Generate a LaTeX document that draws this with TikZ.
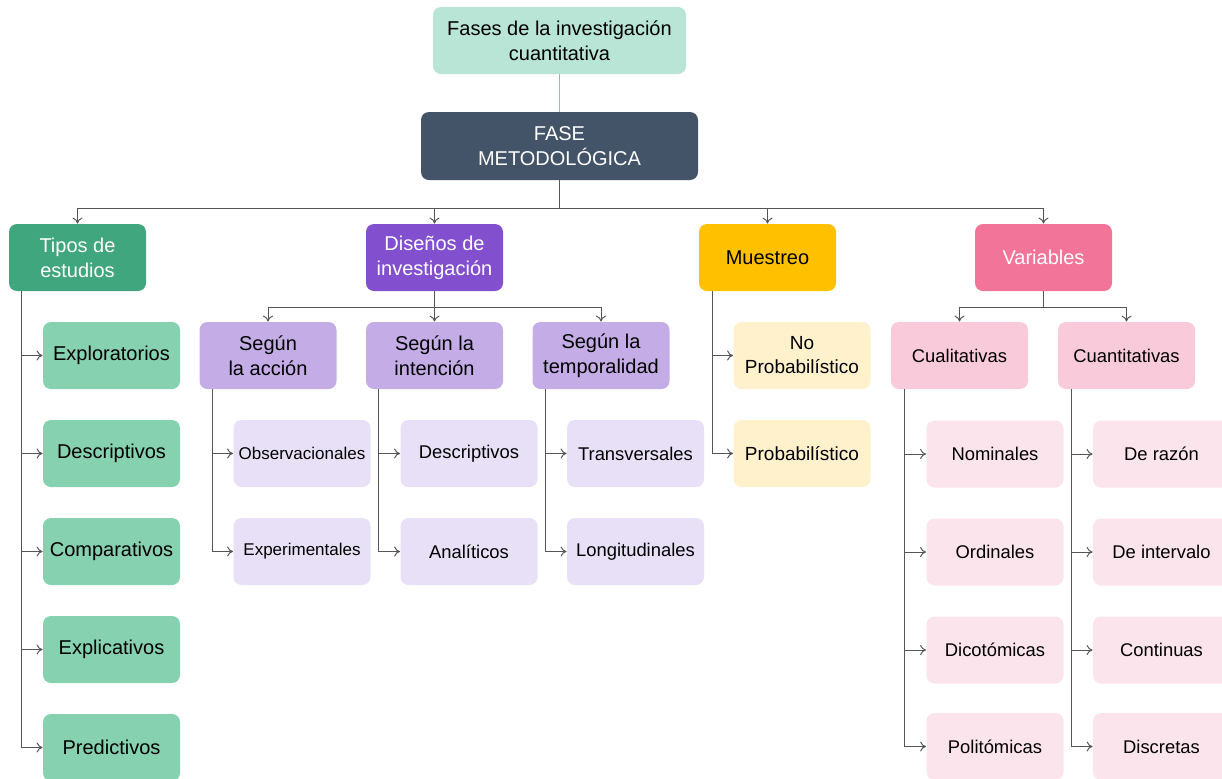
\documentclass[tikz,border=0pt]{standalone}
\usepackage{fontspec}
\setmainfont{Liberation Sans}
\usetikzlibrary{calc,arrows.meta}

\definecolor{headfill}{HTML}{B8E5D5}
\definecolor{fasefill}{HTML}{435468}
\definecolor{tiposfill}{HTML}{40A67D}
\definecolor{tiposhijo}{HTML}{86D1B0}
\definecolor{disfill}{HTML}{8250CF}
\definecolor{dissub}{HTML}{C4ADE6}
\definecolor{dishijo}{HTML}{E8E0F6}
\definecolor{muesfill}{HTML}{FFC000}
\definecolor{mueshijo}{HTML}{FFF1CC}
\definecolor{varfill}{HTML}{F27499}
\definecolor{varsub}{HTML}{F9CADA}
\definecolor{varhijo}{HTML}{FCE4ED}
\definecolor{linea}{HTML}{555555}
\definecolor{lineaazul}{HTML}{9DB3D6}

\tikzset{
    caja/.style={
        rectangle,
        rounded corners=4pt,
        minimum width=68.5pt,
        minimum height=33.5pt,
        inner sep=1pt,
        align=center,
        font=\fontsize{10}{12.5}\selectfont
    },
    flecha/.style={-{To[length=3pt,width=5pt]}, draw=linea, line width=0.5pt}
}

\begin{document}
\begin{tikzpicture}[x=0.5pt, y=-0.5pt]
    \useasboundingbox (0,0) rectangle (1222,778);
    \clip (0,0) rectangle (1222,778);

    \node[caja, fill=headfill, minimum width=126.5pt] (fases) at (559.5, 40.5) {Fases de la investigación\\cuantitativa};
    \node[caja, fill=fasefill, text=white, minimum width=138.5pt, minimum height=34pt] (fase) at (559.5, 146) {FASE\\METODOLÓGICA};

    \node[caja, fill=tiposfill, text=white] (tipos) at (77.5, 257.5) {Tipos de\\estudios};
    \node[caja, fill=disfill, text=white] (disenos) at (434.5, 257.5) {Diseños de\\investigación};
    \node[caja, fill=muesfill] (muestreo) at (767.5, 257.5) {Muestreo};
    \node[caja, fill=varfill, text=white] (variables) at (1043.5, 257.5) {Variables};

    \node[caja, fill=tiposhijo] (explor) at (111.5, 355.5) {Exploratorios};
    \node[caja, fill=tiposhijo] (descrip) at (111.5, 453.5) {Descriptivos};
    \node[caja, fill=tiposhijo] (compar) at (111.5, 551.5) {Comparativos};
    \node[caja, fill=tiposhijo] (explic) at (111.5, 649.5) {Explicativos};
    \node[caja, fill=tiposhijo] (predic) at (111.5, 747.5) {Predictivos};

    \node[caja, fill=dissub] (accion) at (268, 355.5) {Según\\la acción};
    \node[caja, fill=dissub] (intencion) at (434.5, 355.5) {Según la\\intención};
    \node[caja, fill=dissub] (tempo) at (601, 355.5) {Según la\\temporalidad};

    \node[caja, fill=dishijo, font=\fontsize{8.5}{10}\selectfont] (observ) at (302, 453.5) {Observacionales};
    \node[caja, fill=dishijo, font=\fontsize{8.5}{10}\selectfont] (experim) at (302, 551.5) {Experimentales};
    \node[caja, fill=dishijo, font=\fontsize{9.2}{11}\selectfont] (descint) at (469, 453.5) {Descriptivos};
    \node[caja, fill=dishijo, font=\fontsize{9.2}{11}\selectfont] (analit) at (469, 551.5) {Analíticos};
    \node[caja, fill=dishijo, font=\fontsize{9.2}{11}\selectfont] (transv) at (635.5, 453.5) {Transversales};
    \node[caja, fill=dishijo, font=\fontsize{9.2}{11}\selectfont] (longit) at (635.5, 551.5) {Longitudinales};

    \node[caja, fill=mueshijo, font=\fontsize{9.5}{12}\selectfont] (noprob) at (802, 355.5) {No\\Probabilístico};
    \node[caja, fill=mueshijo, font=\fontsize{9.5}{12}\selectfont] (prob) at (802, 453.5) {Probabilístico};

    \node[caja, fill=varsub, font=\fontsize{9.2}{11}\selectfont] (cuali) at (959.5, 355.5) {Cualitativas};
    \node[caja, fill=varsub, font=\fontsize{9.2}{11}\selectfont] (cuanti) at (1126.5, 355.5) {Cuantitativas};

    \node[caja, fill=varhijo, font=\fontsize{9.2}{11}\selectfont] (nomin) at (995, 454) {Nominales};
    \node[caja, fill=varhijo, font=\fontsize{9.2}{11}\selectfont] (ordin) at (995, 552) {Ordinales};
    \node[caja, fill=varhijo, font=\fontsize{9.2}{11}\selectfont] (dicot) at (995, 650) {Dicotómicas};
    \node[caja, fill=varhijo, font=\fontsize{9.2}{11}\selectfont] (polit) at (995, 746.5) {Politómicas};
    \node[caja, fill=varhijo, font=\fontsize{9.2}{11}\selectfont] (razon) at (1161.5, 454) {De razón};
    \node[caja, fill=varhijo, font=\fontsize{9.2}{11}\selectfont] (interv) at (1161.5, 552) {De intervalo};
    \node[caja, fill=varhijo, font=\fontsize{9.2}{11}\selectfont] (contin) at (1161.5, 650) {Continuas};
    \node[caja, fill=varhijo, font=\fontsize{9.2}{11}\selectfont] (discr) at (1161.5, 746.5) {Discretas};

    \draw[lineaazul, line width=0.6pt] (fases.south) -- (fase.north);

    \draw[line width=0.7pt] (fase.south) -- ++(0,28);
    \draw[flecha] (fase.south) -- ++(0,28) -| (tipos.north);
    \draw[flecha] (fase.south) -- ++(0,28) -| (disenos.north);
    \draw[flecha] (fase.south) -- ++(0,28) -| (muestreo.north);
    \draw[flecha] (fase.south) -- ++(0,28) -| (variables.north);

    \draw[flecha] ($(tipos.south west)+(13,0)$) |- (explor.west);
    \draw[flecha] ($(tipos.south west)+(13,0)$) |- (descrip.west);
    \draw[flecha] ($(tipos.south west)+(13,0)$) |- (compar.west);
    \draw[flecha] ($(tipos.south west)+(13,0)$) |- (explic.west);
    \draw[flecha] ($(tipos.south west)+(13,0)$) |- (predic.west);

    \draw[flecha] (disenos.south) -- ++(0,16) -| (accion.north);
    \draw[flecha] (disenos.south) -- ++(0,16) -| (intencion.north);
    \draw[flecha] (disenos.south) -- ++(0,16) -| (tempo.north);

    \draw[flecha] ($(accion.south west)+(13,0)$) |- (observ.west);
    \draw[flecha] ($(accion.south west)+(13,0)$) |- (experim.west);
    \draw[flecha] ($(intencion.south west)+(13,0)$) |- (descint.west);
    \draw[flecha] ($(intencion.south west)+(13,0)$) |- (analit.west);
    \draw[flecha] ($(tempo.south west)+(13,0)$) |- (transv.west);
    \draw[flecha] ($(tempo.south west)+(13,0)$) |- (longit.west);

    \draw[flecha] ($(muestreo.south west)+(14,0)$) |- (noprob.west);
    \draw[flecha] ($(muestreo.south west)+(14,0)$) |- (prob.west);

    \draw[flecha] (variables.south) -- ++(0,16) -| (cuali.north);
    \draw[flecha] (variables.south) -- ++(0,16) -| (cuanti.north);

    \draw[flecha] ($(cuali.south west)+(14,0)$) |- (nomin.west);
    \draw[flecha] ($(cuali.south west)+(14,0)$) |- (ordin.west);
    \draw[flecha] ($(cuali.south west)+(14,0)$) |- (dicot.west);
    \draw[flecha] ($(cuali.south west)+(14,0)$) |- (polit.west);
    \draw[flecha] ($(cuanti.south west)+(14,0)$) |- (razon.west);
    \draw[flecha] ($(cuanti.south west)+(14,0)$) |- (interv.west);
    \draw[flecha] ($(cuanti.south west)+(14,0)$) |- (contin.west);
    \draw[flecha] ($(cuanti.south west)+(14,0)$) |- (discr.west);
\end{tikzpicture}
\end{document}
